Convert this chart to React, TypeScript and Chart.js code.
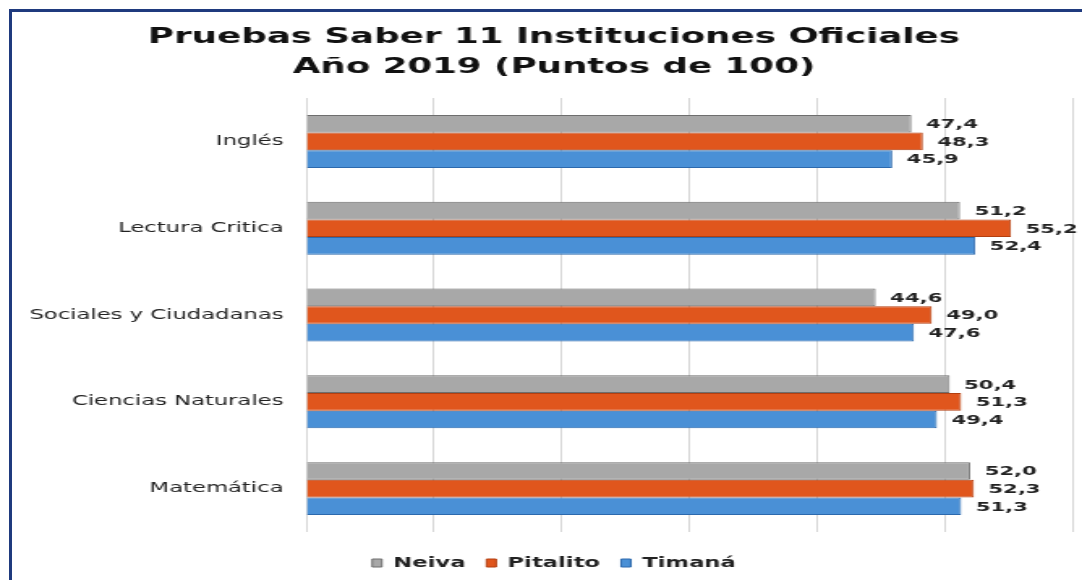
import React, { useEffect, useRef } from 'react';
import { Chart, registerables } from 'chart.js';

Chart.register(...registerables);

// ---- data ----
const categories = ['Inglés', 'Lectura Critica', 'Sociales y Ciudadanas', 'Ciencias Naturales', 'Matemática'];
const seriesNames = ['Neiva', 'Pitalito', 'Timaná'];
const neiva = [47.4, 51.2, 44.6, 50.4, 52.0];
const pitalito = [48.3, 55.2, 49.0, 51.3, 52.3];
const timana = [45.9, 52.4, 47.6, 49.4, 51.3];
const titleLines = ['Pruebas Saber 11 Instituciones Oficiales', 'Año 2019 (Puntos de 100)'];
const xMin = 0;
const xMax = 60;
const xStep = 10;

// ---- styling ----
const FONT = '"DejaVu Sans", Verdana, sans-serif';
const STRETCH = 1.62; // source image is horizontally stretched
const VIEW_W = 1082;
const VIEW_H = 580;
const CANVAS_W = Math.round(VIEW_W / STRETCH);

const fills = ['#a8a8a8', '#e0561d', '#4a90d6'];
const borders = ['#6e6e6e', '#b33f10', '#2c69ad'];

const valueLabels = {
  id: 'valueLabels',
  afterDatasetsDraw(chart: any) {
    const ctx = chart.ctx;
    ctx.save();
    ctx.font = `bold 13px ${FONT}`;
    ctx.fillStyle = '#222';
    ctx.textAlign = 'left';
    ctx.textBaseline = 'middle';
    chart.data.datasets.forEach((ds: any, di: number) => {
      const meta = chart.getDatasetMeta(di);
      meta.data.forEach((el: any, i: number) => {
        const v = ds.data[i] as number;
        ctx.fillText(v.toFixed(1).replace('.', ','), el.x + 9, el.y + 1);
      });
    });
    ctx.restore();
  },
};

// let long category labels extend past the layout padding without being clipped
const widenLabelClip = {
  id: 'widenLabelClip',
  afterLayout(chart: any) {
    const y = chart.scales.y;
    if (y) y.left = 0;
  },
};

export default function App() {
  const ref = useRef<HTMLCanvasElement | null>(null);

  useEffect(() => {
    if (!ref.current) return;
    const series = [neiva, pitalito, timana];
    const chart = new Chart(ref.current, {
      type: 'bar',
      data: {
        labels: categories,
        datasets: series.map((d, i) => ({
          label: seriesNames[i],
          data: d,
          backgroundColor: fills[i],
          borderColor: borders[i],
          borderWidth: 1,
          categoryPercentage: 0.61,
          barPercentage: 1.0,
        })),
      },
      options: {
        indexAxis: 'y',
        animation: false,
        responsive: false,
        maintainAspectRatio: false,
        devicePixelRatio: 1,
        layout: { padding: { left: 22, right: 6, top: 0, bottom: 0 } },
        plugins: {
          title: {
            display: true,
            text: titleLines,
            color: '#111',
            font: { family: FONT, size: 22, weight: 'bold', lineHeight: 1.364 },
            padding: { top: 22, bottom: 16 },
          },
          legend: {
            position: 'bottom',
            labels: {
              boxWidth: 6,
              boxHeight: 8,
              padding: 13,
              color: '#222',
              font: { family: FONT, size: 14, weight: 'bold' },
            },
          },
          tooltip: { enabled: false },
        },
        scales: {
          x: {
            min: xMin,
            max: xMax,
            ticks: { display: false, stepSize: xStep },
            grid: { color: '#d6d6d6', drawTicks: false },
            border: { display: false },
            afterFit: (s: any) => {
              s.height = 11;
            },
          },
          y: {
            grid: { display: false, drawTicks: false },
            border: { display: false },
            ticks: { padding: 14, color: '#222', font: { family: FONT, size: 14 } },
            afterFit: (s: any) => {
              s.width = 167;
            },
          },
        },
      } as any,
      plugins: [valueLabels, widenLabelClip],
    });
    return () => chart.destroy();
  }, []);

  return (
    <div
      style={{
        position: 'absolute',
        left: 0,
        top: 0,
        width: VIEW_W,
        height: VIEW_H,
        overflow: 'hidden',
        background: '#ffffff',
      }}
    >
      <canvas
        ref={ref}
        width={CANVAS_W}
        height={VIEW_H}
        style={{ position: 'absolute', left: 0, top: 0, width: VIEW_W, height: VIEW_H }}
      />
      <div
        style={{
          position: 'absolute',
          left: 9,
          top: 9,
          width: VIEW_W,
          height: 3,
          background: '#1f3a7e',
          pointerEvents: 'none',
        }}
      />
      <div
        style={{
          position: 'absolute',
          left: 9,
          top: 9,
          width: 3,
          height: VIEW_H,
          background: '#1f3a7e',
          pointerEvents: 'none',
        }}
      />
    </div>
  );
}
